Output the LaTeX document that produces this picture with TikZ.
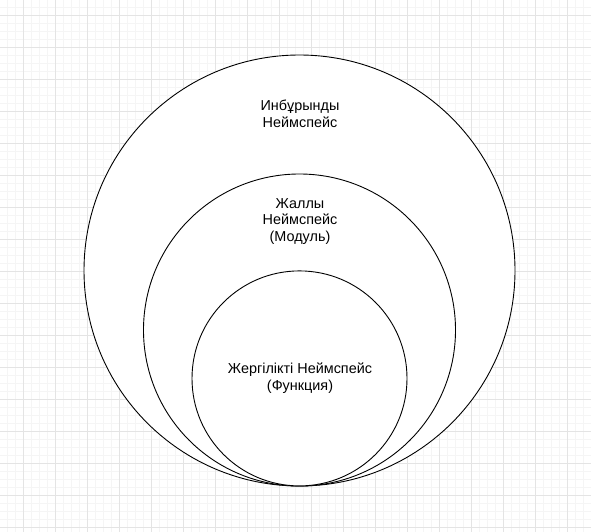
\documentclass[tikz,border=0pt]{standalone}
\usepackage{fontspec}
\setmainfont{Liberation Sans}
\usepackage{tikz}
\definecolor{gridMinor}{HTML}{F5F5F5}
\definecolor{gridMajor}{HTML}{E4E4E4}

\begin{document}
\begin{tikzpicture}[
  x=1pt, y=-1pt,
  font=\fontsize{14.4}{16.8}\selectfont,
  minorline/.style={draw=gridMinor, line width=0.8pt},
  majorline/.style={draw=gridMajor, line width=0.9pt},
  ring/.style={draw=black, fill=white, line width=0.9pt, circle, inner sep=0pt, minimum size=#1},
  lbl/.style={align=center, inner sep=0pt},
]
\useasboundingbox (0,0) rectangle (591,532);
\fill[white] (0,0) rectangle (591,532);
% grid
\foreach \gx in {7,15,...,591} \draw[minorline] (\gx,0) -- (\gx,532);
\foreach \gy in {7,15,...,532} \draw[minorline] (0,\gy) -- (591,\gy);
\foreach \gx in {23,55,...,591} \draw[majorline] (\gx,0) -- (\gx,532);
\foreach \gy in {15,47,...,532} \draw[majorline] (0,\gy) -- (591,\gy);
% namespaces
\node[ring=431pt] (builtin) at (299.5,270.5) {};
\node[ring=312pt] (global) at (299.5,330) {};
\node[ring=215pt] (local) at (299.5,378.4) {};
\node[lbl] (builtinText) at (300,114) {Инбұрынды\\Неймспейс};
\node[lbl] (globalText) at (300,221.5) {Жаллы\\Неймспейс\\(Модуль)};
\node[lbl] (localText) at (300,378.5) {Жергілікті Неймспейс\\(Функция)};
\end{tikzpicture}
\end{document}
